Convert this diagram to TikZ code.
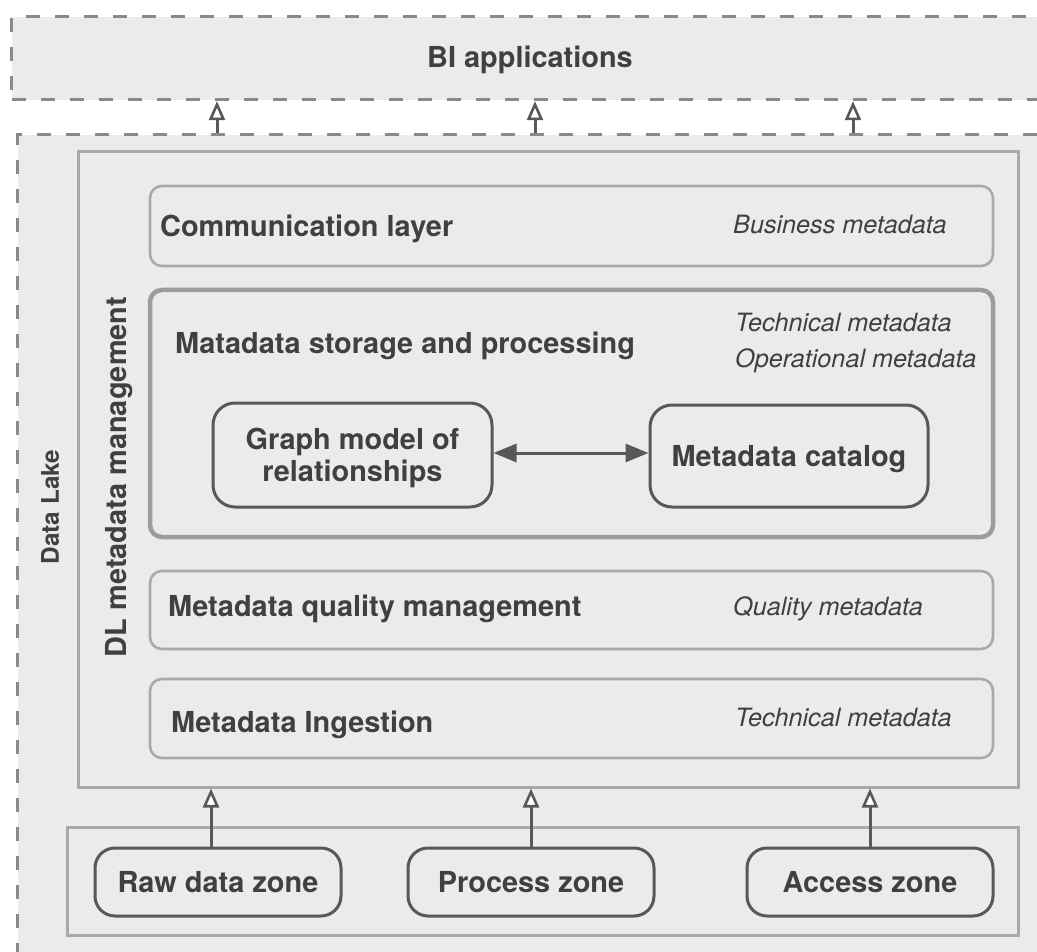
\documentclass[tikz,border=0pt]{standalone}
\usepackage{fontspec}
\setmainfont{TeX Gyre Heros}
\usetikzlibrary{arrows.meta,positioning}
\definecolor{panelgray}{HTML}{EBEBEB}
\definecolor{dashgray}{HTML}{8A8A8A}
\definecolor{framegray}{HTML}{A9A9A9}
\definecolor{storegray}{HTML}{9C9C9C}
\definecolor{boxgray}{HTML}{585858}
\definecolor{txtgray}{HTML}{404040}
\newcommand{\headfont}{\fontsize{28.9}{32}\selectfont\bfseries}
\newcommand{\metafont}{\fontsize{25.2}{35}\selectfont\itshape}

\begin{document}
\begin{tikzpicture}[x=1pt,y=-1pt,
		dashbox/.style={draw=dashgray,fill=panelgray,line width=3.2pt,dash pattern=on 14pt off 15pt,anchor=north west,inner sep=0pt},
		framebox/.style={draw=framegray,line width=3pt,inner sep=0pt},
		layerbox/.style={draw=framegray,line width=2.6pt,rounded corners=12pt,inner sep=0pt},
		unitbox/.style={draw=boxgray,line width=3pt,rounded corners=22pt,text=txtgray,font=\headfont,align=center,inner sep=0pt,text depth=0pt},
		headlabel/.style={anchor=west,inner sep=0pt,text height=20.6pt,text depth=0pt,text=txtgray,font=\headfont},
		metalabel/.style={anchor=west,inner sep=0pt,text height=18pt,text depth=0pt,text=txtgray,font=\metafont},
		openarrow/.style={draw=boxgray,line width=3pt,-{Triangle[length=19pt,width=16pt,fill=white,line width=2.6pt]}},
		dblarrow/.style={draw=boxgray,line width=3pt,{Triangle[length=23pt,width=18pt]}-{Triangle[length=23pt,width=18pt]}}]
		\clip (0,0) rectangle (1037,952);
		\fill[white] (0,0) rectangle (1037,952);
		% outer dashed areas
		\node[dashbox,minimum width=1060,minimum height=83] (bi) at (10,15) {};
		\node[dashbox,minimum width=1060,minimum height=900] (lake) at (16,133) {};
		\node[headlabel,anchor=center] (bititle) at (530,57) {BI applications};
		\node[headlabel,anchor=center,rotate=90,font=\fontsize{24.3}{28}\selectfont\bfseries,text height=17.5pt] (laketitle) at (50,507) {Data Lake};
		% metadata management frame
		\node[framebox,minimum width=940,minimum height=635] (dlm) at (548,469.5) {};
		\node[headlabel,anchor=center,rotate=90] (dlmtitle) at (116,477) {DL metadata management};
		% layers
		\node[layerbox,minimum width=843,minimum height=80] (comm) at (571.5,226) {};
		\node[layerbox,draw=storegray,line width=4.5pt,minimum width=843,minimum height=247] (store) at (571.5,413.5) {};
		\node[layerbox,minimum width=843,minimum height=78] (quality) at (571.5,610) {};
		\node[layerbox,minimum width=843,minimum height=79] (ingest) at (571.5,718.5) {};
		\node[headlabel] (commlabel) at (160,226) {Communication layer};
		\node[metalabel] (commmeta) at (733,225) {Business metadata};
		\node[headlabel] (storelabel) at (175,343) {Matadata storage and processing};
		\node[metalabel] (storemeta) at (735,323) {Technical metadata};
		\node[metalabel] (storeops) at (735,358) {Operational metadata};
		\node[headlabel] (qualitylabel) at (168,606) {Metadata quality management};
		\node[metalabel] (qualitymeta) at (733,606) {Quality metadata};
		\node[headlabel] (ingestlabel) at (171,722) {Metadata Ingestion};
		\node[metalabel] (ingestmeta) at (735,717) {Technical metadata};
		% storage internals
		\node[unitbox,minimum width=279,minimum height=104] (graph) at (352.5,455) {Graph model of\\relationships};
		\node[unitbox,minimum width=278,minimum height=102,text height=20.6pt] (catalog) at (789,456) {Metadata catalog};
		\draw[dblarrow] ([yshift=2pt]graph.east) -- ([yshift=2pt]graph.east -| catalog.west);
		% data zones
		\node[framebox,minimum width=951,minimum height=108] (zones) at (542.5,881) {};
		\node[unitbox,minimum width=246,minimum height=68,rounded corners=20pt,text height=20.6pt] (raw) at (218,882) {Raw data zone};
		\node[unitbox,minimum width=246,minimum height=68,rounded corners=20pt,text height=20.6pt] (process) at (531,882) {Process zone};
		\node[unitbox,minimum width=246,minimum height=68,rounded corners=20pt,text height=20.6pt] (access) at (870,882) {Access zone};
		\draw[openarrow] ([xshift=-7pt]raw.north) -- ([xshift=-7pt]raw.north |- dlm.south);
		\draw[openarrow] (process.north) -- (process.north |- dlm.south);
		\draw[openarrow] (access.north) -- (access.north |- dlm.south);
		% up to BI
		\foreach \x in {217,535,853} {
			\coordinate (up\x) at (\x,0);
			\draw[openarrow] (up\x |- lake.north) -- (up\x |- bi.south);
		}
	\end{tikzpicture}
\end{document}
